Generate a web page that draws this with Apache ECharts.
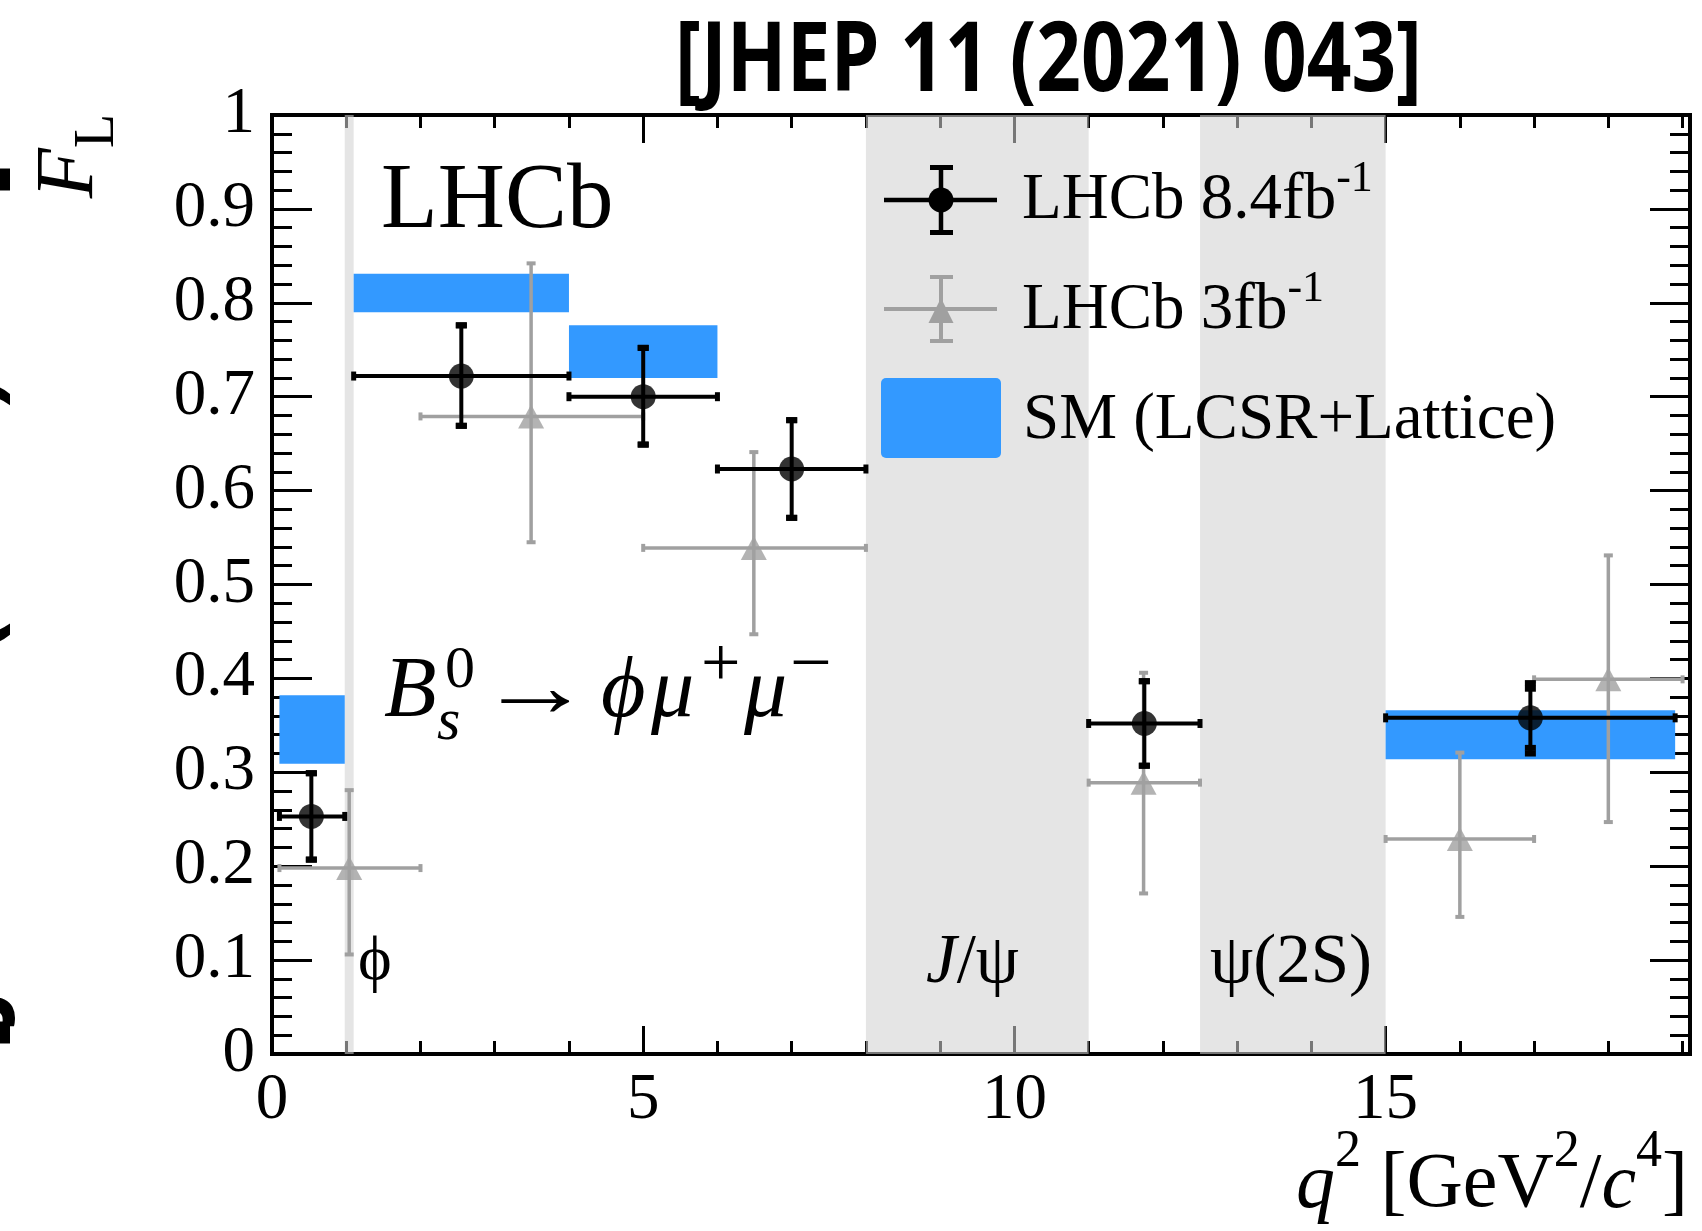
<!DOCTYPE html>
<html>
<head>
<meta charset="utf-8">
<script src="https://cdn.jsdelivr.net/npm/echarts@6/dist/echarts.min.js"></script>
<style>html,body{margin:0;padding:0;background:#fff}#c{width:1702px;height:1231px}</style>
</head>
<body>
<div id="c"></div>
<script>
// ---------------- data ----------------
const xTickValues = [0, 5, 10, 15];
const yTickLabels = ['0','0.1','0.2','0.3','0.4','0.5','0.6','0.7','0.8','0.9','1'];
const X_MAX = 19.1;

// vetoed charmonium / phi regions
const bandLo = [0.98, 8.0, 12.5];
const bandHi = [1.1, 11.0, 15.0];

// SM (LCSR+Lattice) prediction boxes
const smLo   = [0.1, 1.1, 4.0, 15.0];
const smHi   = [0.98, 4.0, 6.0, 18.9];
const smLow  = [0.309, 0.790, 0.720, 0.314];
const smHigh = [0.382, 0.831, 0.776, 0.366];

// LHCb 8.4 fb-1
const run2X      = [0.53, 2.55, 5.0, 7.0, 11.75, 16.95];
const run2XLo    = [0.1, 1.1, 4.0, 6.0, 11.0, 15.0];
const run2XHi    = [0.98, 4.0, 6.0, 8.0, 12.5, 18.9];
const run2Y      = [0.253, 0.722, 0.700, 0.623, 0.352, 0.358];
const run2ErrUp  = [0.046, 0.054, 0.052, 0.052, 0.045, 0.037];
const run2ErrDn  = [0.046, 0.053, 0.051, 0.052, 0.045, 0.038];
const run2StatUp = [0.046, 0.054, 0.052, 0.052, 0.045, 0.031];
const run2StatDn = [0.046, 0.053, 0.051, 0.052, 0.045, 0.032];

// LHCb 3 fb-1
const run1X     = [1.04, 3.49, 6.49, 11.74, 16.0, 18.0];
const run1XLo   = [0.1, 2.0, 5.0, 11.0, 15.0, 17.0];
const run1XHi   = [2.0, 5.0, 8.0, 12.5, 17.0, 19.0];
const run1Y     = [0.198, 0.679, 0.539, 0.289, 0.229, 0.399];
const run1ErrUp = [0.083, 0.163, 0.102, 0.117, 0.092, 0.132];
const run1ErrDn = [0.092, 0.134, 0.092, 0.118, 0.083, 0.152];

// ---------------- style ----------------
const SERIF = 'Liberation Serif';
const BLACK = '#000';
const GRAY = '#a0a0a0';
const BLUE = '#3399ff';
const BAND = 'rgba(209,209,209,0.57)';

function textWidth(font, s) {
  const ctx = document.createElement('canvas').getContext('2d');
  ctx.font = font; return ctx.measureText(s).width;
}

function capRect(cx, cy, w, h, color) {
  return {type:'rect', shape:{x:cx - w/2, y:cy - h/2, width:w, height:h}, style:{fill:color}};
}

function makeErrRender(color, lw, vcap, hcap, hasStat) {
  return function (params, api) {
    const x = api.value(0), y = api.value(1);
    const c = api.coord([x, y]);
    const xl = api.coord([api.value(2), y])[0];
    const xh = api.coord([api.value(3), y])[0];
    const yl = api.coord([x, api.value(4)])[1];
    const yh = api.coord([x, api.value(5)])[1];
    const st = {stroke: color, lineWidth: lw};
    const ch = [
      {type:'line', shape:{x1:xl, y1:c[1], x2:xh, y2:c[1]}, style:st},
      {type:'line', shape:{x1:c[0], y1:yl, x2:c[0], y2:yh}, style:st},
      capRect(c[0], yl, vcap[0], vcap[1], color),
      capRect(c[0], yh, vcap[0], vcap[1], color),
      capRect(xl, c[1], hcap[0], hcap[1], color),
      capRect(xh, c[1], hcap[0], hcap[1], color)
    ];
    if (hasStat) {
      ch.push(capRect(c[0], api.coord([x, api.value(6)])[1], vcap[0], vcap[1], color));
      ch.push(capRect(c[0], api.coord([x, api.value(7)])[1], vcap[0], vcap[1], color));
    }
    return {type:'group', children: ch};
  };
}

function bandRender(params, api) {
  const p0 = api.coord([api.value(0), 1]);
  const p1 = api.coord([api.value(1), 0]);
  return {type:'rect', shape:{x:p0[0], y:p0[1], width:p1[0]-p0[0], height:p1[1]-p0[1]}, style:{fill:BAND}};
}

function smRender(params, api) {
  const p0 = api.coord([api.value(0), api.value(3)]);
  const p1 = api.coord([api.value(1), api.value(2)]);
  return {type:'rect', shape:{x:p0[0], y:p0[1], width:p1[0]-p0[0], height:p1[1]-p0[1]}, style:{fill:BLUE}};
}

// ---------------- axes ----------------
const axLine = {show:true, onZero:false, lineStyle:{color:BLACK, width:4, cap:'square'}};
function xAx(pos, interval, len, labels) {
  return {
    type:'value', min:0, max:X_MAX, interval:interval, position:pos, gridIndex:0,
    splitLine:{show:false}, axisLine:axLine,
    axisTick:{show:true, inside:true, length:len, lineStyle:{color:BLACK, width:3}},
    axisLabel: labels ? {show:true, margin:14, fontFamily:SERIF, fontSize:65, color:BLACK,
      formatter: v => xTickValues.includes(v) ? String(v) : ''} : {show:false}
  };
}
function yAx(pos, labels) {
  return {
    type:'value', min:0, max:1, interval:0.1, position:pos, gridIndex:0,
    splitLine:{show:false}, axisLine:axLine,
    axisTick:{show:true, inside:true, length:40, lineStyle:{color:BLACK, width:3}},
    minorTick:{show:true, splitNumber:5, length:20, lineStyle:{color:BLACK, width:3}},
    axisLabel: labels ? {show:true, margin:17, fontFamily:SERIF, fontSize:65, color:BLACK,
      formatter: v => yTickLabels[Math.round(v * 10)]} : {show:false}
  };
}

// ---------------- text / legend graphics ----------------
const G = [];
const Z = 100;
function txt(o) { o.z = Z; G.push(o); }

// title
const titleText = '[JHEP 11 (2021) 043]';
const tw = textWidth('bold 96px "Open Sans"', titleText);
txt({type:'text', x:675, y:64, scaleX:747/tw,
  style:{text:titleText, fontFamily:'Open Sans', fontWeight:'bold', fontSize:96, fill:BLACK,
    align:'left', verticalAlign:'middle', textAlign:'left', textVerticalAlign:'middle'}});
// clipped rotated text at the left edge
txt({type:'text', x:-32, y:606, rotation:Math.PI/2, scaleX:888/tw,
  style:{text:titleText, fontFamily:'Open Sans', fontWeight:'bold', fontSize:96, fill:BLACK,
    align:'center', verticalAlign:'middle', textAlign:'center', textVerticalAlign:'middle'}});

// LHCb label
txt({type:'text', x:381, y:203, style:{text:'LHCb', fontFamily:SERIF, fontSize:93, fill:BLACK,
  align:'left', verticalAlign:'middle', textAlign:'left', textVerticalAlign:'middle'}});

// decay label: [text, x, y, size, italic, scaleX]
const decayParts = [
  ['B', 384, 693, 86, true, 1], ['0', 445, 671, 60, false, 1], ['s', 437, 723, 60, true, 1],
  ['\u2192', 478, 693, 88, false, 1.3], ['\u03D5', 601, 693, 86, true, 1], ['\u03BC', 651, 693, 86, true, 1],
  ['+', 701, 668, 70, false, 1], ['\u03BC', 744, 693, 86, true, 1], ['\u2212', 790, 668, 74, false, 1]
];
decayParts.forEach(p => txt({type:'text', x:p[1], y:p[2], scaleX:p[5], style:{text:p[0], fontFamily:SERIF,
  fontSize:p[3], fontStyle:p[4] ? 'italic' : 'normal', fill:BLACK,
  align:'left', verticalAlign:'middle', textAlign:'left', textVerticalAlign:'middle'}}));

// band labels
txt({type:'text', x:358, y:962, style:{text:'\u03D5', fontFamily:SERIF, fontSize:64, fill:BLACK,
  align:'left', verticalAlign:'middle', textAlign:'left', textVerticalAlign:'middle'}});
txt({type:'text', x:926, y:964, style:{text:'{i|J}{r|/\u03C8}', fontFamily:SERIF, fontSize:69, fill:BLACK,
  lineHeight:69, rich:{i:{fontFamily:SERIF, fontSize:69, fontStyle:'italic', fill:BLACK}, r:{fontFamily:SERIF, fontSize:69, fill:BLACK}},
  align:'left', verticalAlign:'middle', textAlign:'left', textVerticalAlign:'middle'}});
txt({type:'text', x:1210, y:964, style:{text:'\u03C8(2S)', fontFamily:SERIF, fontSize:69, fill:BLACK,
  align:'left', verticalAlign:'middle', textAlign:'left', textVerticalAlign:'middle'}});

// axis titles
txt({type:'text', x:1688, y:1186, style:{
  text:'{i|q}{s|2}{r| [GeV}{s|2}{r|/}{i|c}{s|4}{r|]}', fontFamily:SERIF, fontSize:78, lineHeight:78, fill:BLACK,
  rich:{i:{fontFamily:SERIF, fontSize:78, fontStyle:'italic', fill:BLACK},
        r:{fontFamily:SERIF, fontSize:78, fill:BLACK},
        s:{fontFamily:SERIF, fontSize:52, fill:BLACK, padding:[0,0,68,0]}},
  align:'right', verticalAlign:'middle', textAlign:'right', textVerticalAlign:'middle'}});
txt({type:'text', x:70, y:156, rotation:Math.PI/2, style:{
  text:'{i|F}{s|L}', fontFamily:SERIF, fontSize:82, lineHeight:82, fill:BLACK,
  rich:{i:{fontFamily:SERIF, fontSize:82, fontStyle:'italic', fill:BLACK},
        s:{fontFamily:SERIF, fontSize:56, fill:BLACK, padding:[57,0,0,0]}},
  align:'center', verticalAlign:'middle', textAlign:'center', textVerticalAlign:'middle'}});

// legend
function shp(o) { o.z = Z; G.push(o); }
shp({type:'line', shape:{x1:884, y1:200, x2:997, y2:200}, style:{stroke:BLACK, lineWidth:4.5}});
shp({type:'line', shape:{x1:941, y1:167, x2:941, y2:233}, style:{stroke:BLACK, lineWidth:4.5}});
shp({type:'rect', shape:{x:930, y:165, width:23, height:5}, style:{fill:BLACK}});
shp({type:'rect', shape:{x:930, y:230, width:23, height:5}, style:{fill:BLACK}});
shp({type:'circle', shape:{cx:941, cy:200, r:12.5}, style:{fill:BLACK}});
shp({type:'line', shape:{x1:884, y1:309, x2:997, y2:309}, style:{stroke:GRAY, lineWidth:4}});
shp({type:'line', shape:{x1:941, y1:277, x2:941, y2:341}, style:{stroke:GRAY, lineWidth:4}});
shp({type:'rect', shape:{x:930, y:275, width:23, height:4}, style:{fill:GRAY}});
shp({type:'rect', shape:{x:930, y:339, width:23, height:4}, style:{fill:GRAY}});
shp({type:'polygon', shape:{points:[[941, 298],[928.5, 323],[953.5, 323]]}, style:{fill:GRAY}});
shp({type:'rect', shape:{x:881, y:378, width:120, height:80, r:5}, style:{fill:BLUE}});
const legRich = {m:{fontFamily:SERIF, fontSize:65, fill:BLACK}, s:{fontFamily:SERIF, fontSize:44, fill:BLACK, padding:[0,0,44,0]}};
txt({type:'text', x:1022, y:201, style:{text:'{m|LHCb 8.4fb}{s|-1}', fontFamily:SERIF, fontSize:65, lineHeight:65, fill:BLACK, rich:legRich,
  align:'left', verticalAlign:'middle', textAlign:'left', textVerticalAlign:'middle'}});
txt({type:'text', x:1022, y:311, style:{text:'{m|LHCb 3fb}{s|-1}', fontFamily:SERIF, fontSize:65, lineHeight:65, fill:BLACK, rich:legRich,
  align:'left', verticalAlign:'middle', textAlign:'left', textVerticalAlign:'middle'}});
txt({type:'text', x:1023, y:421, style:{text:'SM (LCSR+Lattice)', fontFamily:SERIF, fontSize:65, fill:BLACK,
  align:'left', verticalAlign:'middle', textAlign:'left', textVerticalAlign:'middle'}});

// ---------------- chart ----------------
const chart = echarts.init(document.getElementById('c'), null, {renderer:'canvas', width:1702, height:1231});
chart.setOption({
  animation:false,
  backgroundColor:'#fff',
  grid:{left:272, top:115, width:1418, height:939, containLabel:false},
  xAxis:[xAx('bottom', 5, 28, true), xAx('bottom', 1, 13, false), xAx('top', 5, 28, false), xAx('top', 1, 13, false)],
  yAxis:[yAx('left', true), yAx('right', false)],
  graphic:{elements:G},
  series:[
    {type:'custom', name:'vetoed', z:1, silent:true, renderItem:bandRender,
      data: bandLo.map((l, i) => [l, bandHi[i]])},
    {type:'custom', name:'SM (LCSR+Lattice)', z:2, silent:true, renderItem:smRender,
      data: smLo.map((l, i) => [l, smHi[i], smLow[i], smHigh[i]])},
    {type:'custom', name:'LHCb 3fb-1 errors', z:3, silent:true,
      renderItem: makeErrRender(GRAY, 3.5, [9, 4], [4, 8], false),
      data: run1X.map((x, i) => [x, run1Y[i], run1XLo[i], run1XHi[i], run1Y[i]-run1ErrDn[i], run1Y[i]+run1ErrUp[i]])},
    {type:'scatter', name:'LHCb 3fb-1', z:4, silent:true, symbol:'triangle', symbolSize:[26, 24],
      itemStyle:{color:GRAY}, data: run1X.map((x, i) => [x, run1Y[i]])},
    {type:'custom', name:'LHCb 8.4fb-1 errors', z:5, silent:true,
      renderItem: makeErrRender(BLACK, 4, [11, 6], [5, 9], true),
      data: run2X.map((x, i) => [x, run2Y[i], run2XLo[i], run2XHi[i], run2Y[i]-run2ErrDn[i], run2Y[i]+run2ErrUp[i],
        run2Y[i]-run2StatDn[i], run2Y[i]+run2StatUp[i]])},
    {type:'scatter', name:'LHCb 8.4fb-1', z:6, silent:true, symbol:'circle', symbolSize:25,
      itemStyle:{color:BLACK}, data: run2X.map((x, i) => [x, run2Y[i]])}
  ]
});
</script>
</body>
</html>
